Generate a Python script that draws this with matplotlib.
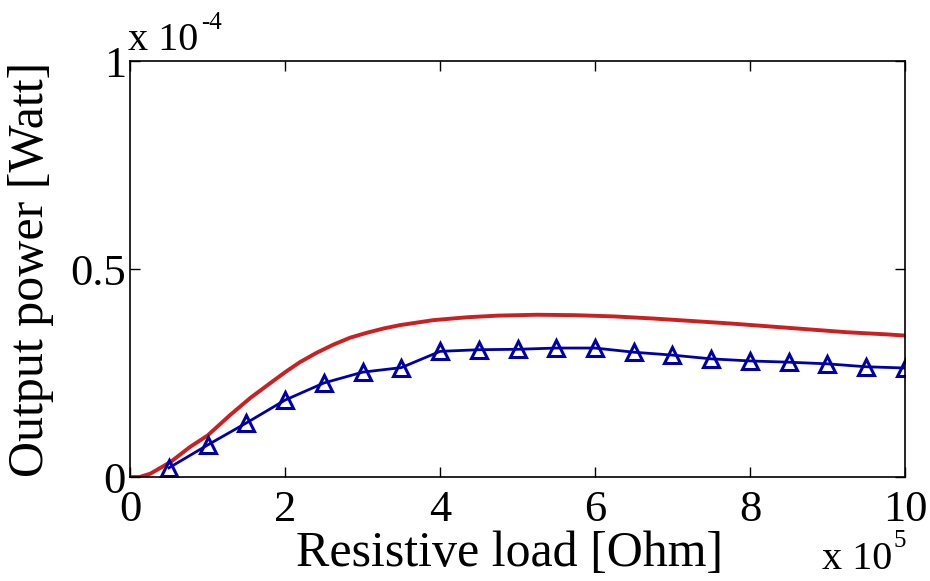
import numpy as np
import matplotlib.pyplot as plt

# Data (x in units of 1e5 Ohm, y in units of 1e-4 W)
x_sim = [0.0, 0.12, 0.26, 0.52, 0.77, 1.0, 1.29, 1.55, 1.81, 2.0, 2.19, 2.4, 2.62, 2.84, 3.06,
         3.27, 3.48, 3.91, 4.35, 4.75, 5.25, 5.75, 6.25, 6.75, 7.25, 7.75, 8.25, 8.75, 9.25, 9.75, 10.0]
p_sim = [0.0, 0.0, 0.008, 0.036, 0.072, 0.10, 0.149, 0.19, 0.226, 0.252, 0.276, 0.298, 0.318, 0.335, 0.347,
         0.357, 0.365, 0.377, 0.384, 0.388, 0.390, 0.389, 0.386, 0.381, 0.375, 0.369, 0.362, 0.355, 0.348, 0.343, 0.340]

x_exp = [0.5, 1.0, 1.5, 2.0, 2.5, 3.0, 3.5, 4.0, 4.5, 5.0, 5.5, 6.0, 6.5, 7.0, 7.5, 8.0, 8.5, 9.0, 9.5, 10.0]
p_exp = [0.022, 0.077, 0.13, 0.185, 0.226, 0.252, 0.263, 0.302, 0.306, 0.307, 0.31, 0.31, 0.30, 0.293, 0.284, 0.279, 0.276, 0.272, 0.265, 0.262]

plt.rcParams['font.family'] = 'Liberation Serif'

fig = plt.figure(figsize=(9.3, 5.81), dpi=100)
ax = fig.add_axes([0.140, 0.179, 0.833, 0.716])

ax.plot(x_sim, p_sim, color='#cc1f1f', linewidth=2.8)
ax.plot(x_exp, p_exp, color='#0000a8', linewidth=2.0, marker='^',
        markersize=11, markerfacecolor='none', markeredgewidth=2.2,
        markeredgecolor='#0000a8')

ax.set_xlim(0, 10)
ax.set_ylim(0, 1)
ax.set_xticks([0, 2, 4, 6, 8, 10])
ax.set_yticks([0, 0.5, 1])
ax.set_yticklabels(['0', '0.5', '1'])
ax.tick_params(direction='in', top=True, right=True, length=7, width=1,
               labelsize=32)
ax.tick_params(axis='x', pad=9)
ax.tick_params(axis='y', pad=3)
for s in ax.spines.values():
    s.set_linewidth(1.2)

ax.set_xlabel('Resistive load [Ohm]', fontsize=36, va='center')
ax.xaxis.set_label_coords(0.49, -0.185)
ax.set_ylabel('Output power [Watt]', fontsize=36, va='center')
ax.yaxis.set_label_coords(-0.128, 0.5)

# MATLAB-style exponent labels
fig.text(0.1376, 0.914, 'x 10', fontsize=29, ha='left', va='baseline')
fig.text(0.216, 0.950, '-4', fontsize=18, ha='left', va='baseline')
fig.text(0.884, 0.020, 'x 10', fontsize=29, ha='left', va='baseline')
fig.text(0.961, 0.058, '5', fontsize=18, ha='left', va='baseline')

fig.savefig('out.png', dpi=100)
